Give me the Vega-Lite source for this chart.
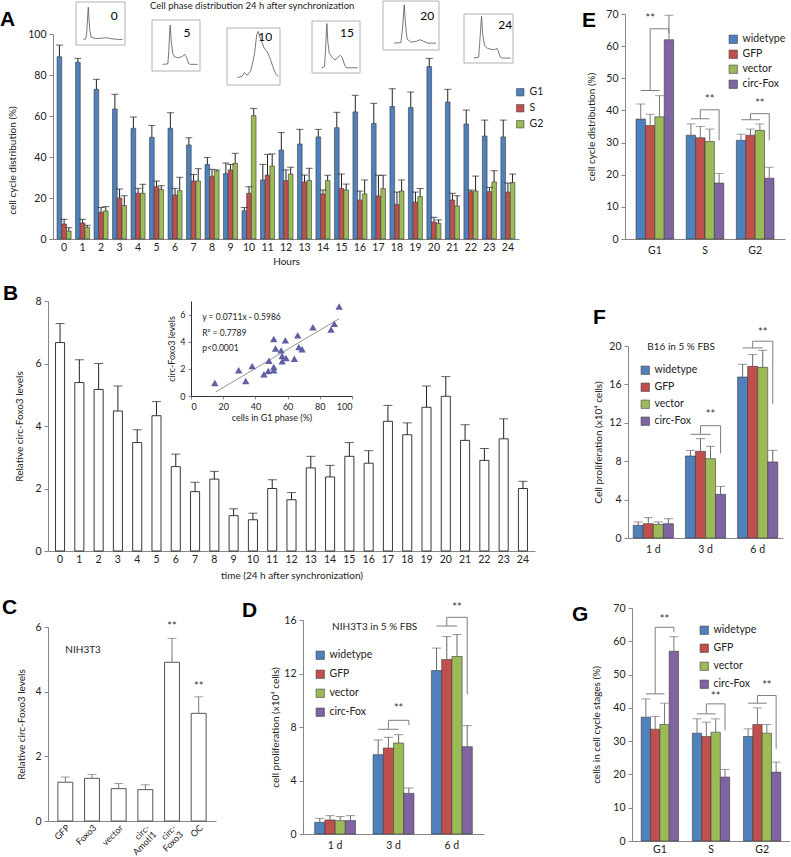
{
"$schema":"https://vega.github.io/schema/vega-lite/v6.json",
"background":"white",
"padding":0,
"spacing":16,
"resolve":{"scale":{"color":"independent","xOffset":"independent"}},
"title":{"text":"Cell phase distribution 24 h after synchronization","anchor":"start","frame":"group","dx":102,"offset":-10,"fontSize":9.5,"fontWeight":"normal","font":"Lato","color":"#222"},
"config":{
 "view":{"stroke":null},
 "font":"Lato",
 "axis":{"labelFont":"Lato","titleFont":"Lato","labelFontSize":10.5,"titleFontSize":10,"titleFontWeight":"normal","labelColor":"#222","titleColor":"#222","domainColor":"#868686","tickColor":"#868686","tickSize":4,"grid":false,"labelPadding":3,"labelOverlap":false},
 "legend":{"labelFont":"Lato","labelFontSize":10.5,"labelColor":"#222","symbolType":"square","symbolSize":70,"symbolStrokeColor":"#404040","symbolStrokeWidth":0.6},
 "title":{"font":"Liberation Sans","fontSize":21,"fontWeight":"bold","anchor":"start","frame":"group","color":"#000"},
 "bar":{"stroke":"#3a3a3a","strokeWidth":0.6},
 "text":{"font":"Lato"}
},
"datasets":{
 "A":[
  {"hour":0,"phase":"G1","value":88.9,"err":94.6},{"hour":0,"phase":"S","value":7.3,"err":9.6},{"hour":0,"phase":"G2","value":3.9,"err":5.5},
  {"hour":1,"phase":"G1","value":86.2,"err":88.1},{"hour":1,"phase":"S","value":7.8,"err":9.6},{"hour":1,"phase":"G2","value":5.7,"err":6.7},
  {"hour":2,"phase":"G1","value":73.0,"err":77.9},{"hour":2,"phase":"S","value":13.0,"err":15.4},{"hour":2,"phase":"G2","value":13.7,"err":15.8},
  {"hour":3,"phase":"G1","value":63.4,"err":70.6},{"hour":3,"phase":"S","value":20.0,"err":24.4},{"hour":3,"phase":"G2","value":16.3,"err":21.1},
  {"hour":4,"phase":"G1","value":54.0,"err":59.5},{"hour":4,"phase":"S","value":22.3,"err":24.7},{"hour":4,"phase":"G2","value":22.3,"err":26.7},
  {"hour":5,"phase":"G1","value":49.6,"err":55.4},{"hour":5,"phase":"S","value":25.5,"err":28.3},{"hour":5,"phase":"G2","value":24.2,"err":26.0},
  {"hour":6,"phase":"G1","value":54.0,"err":61.6},{"hour":6,"phase":"S","value":21.5,"err":24.7},{"hour":6,"phase":"G2","value":23.6,"err":30.1},
  {"hour":7,"phase":"G1","value":45.9,"err":49.4},{"hour":7,"phase":"S","value":28.3,"err":31.5},{"hour":7,"phase":"G2","value":28.3,"err":34.3},
  {"hour":8,"phase":"G1","value":36.3,"err":39.8},{"hour":8,"phase":"S","value":30.6,"err":34.0},{"hour":8,"phase":"G2","value":33.2,"err":33.7},
  {"hour":9,"phase":"G1","value":31.9,"err":37.1},{"hour":9,"phase":"S","value":33.7,"err":36.4},{"hour":9,"phase":"G2","value":36.9,"err":41.8},
  {"hour":10,"phase":"G1","value":13.8,"err":15.4},{"hour":10,"phase":"S","value":22.3,"err":25.5},{"hour":10,"phase":"G2","value":60.2,"err":63.7},
  {"hour":11,"phase":"G1","value":28.8,"err":36.4},{"hour":11,"phase":"S","value":31.2,"err":41.3},{"hour":11,"phase":"G2","value":35.6,"err":41.5},
  {"hour":12,"phase":"G1","value":43.4,"err":51.9},{"hour":12,"phase":"S","value":28.5,"err":33.7},{"hour":12,"phase":"G2","value":31.7,"err":35.0},
  {"hour":13,"phase":"G1","value":46.3,"err":53.5},{"hour":13,"phase":"S","value":27.8,"err":31.2},{"hour":13,"phase":"G2","value":28.5,"err":34.5},
  {"hour":14,"phase":"G1","value":49.8,"err":53.5},{"hour":14,"phase":"S","value":22.0,"err":23.9},{"hour":14,"phase":"G2","value":28.5,"err":31.1},
  {"hour":15,"phase":"G1","value":54.3,"err":61.8},{"hour":15,"phase":"S","value":24.6,"err":31.7},{"hour":15,"phase":"G2","value":23.9,"err":26.8},
  {"hour":16,"phase":"G1","value":62.0,"err":70.1},{"hour":16,"phase":"S","value":19.0,"err":23.4},{"hour":16,"phase":"G2","value":22.0,"err":28.8},
  {"hour":17,"phase":"G1","value":56.4,"err":66.2},{"hour":17,"phase":"S","value":21.0,"err":31.1},{"hour":17,"phase":"G2","value":24.6,"err":31.1},
  {"hour":18,"phase":"G1","value":64.6,"err":73.3},{"hour":18,"phase":"S","value":16.9,"err":22.9},{"hour":18,"phase":"G2","value":23.4,"err":28.8},
  {"hour":19,"phase":"G1","value":64.1,"err":71.7},{"hour":19,"phase":"S","value":18.0,"err":22.9},{"hour":19,"phase":"G2","value":20.7,"err":24.6},
  {"hour":20,"phase":"G1","value":84.1,"err":88.1},{"hour":20,"phase":"S","value":8.3,"err":10.6},{"hour":20,"phase":"G2","value":7.6,"err":9.3},
  {"hour":21,"phase":"G1","value":66.8,"err":73.0},{"hour":21,"phase":"S","value":19.0,"err":22.3},{"hour":21,"phase":"G2","value":16.1,"err":21.1},
  {"hour":22,"phase":"G1","value":56.1,"err":62.9},{"hour":22,"phase":"S","value":23.1,"err":23.9},{"hour":22,"phase":"G2","value":23.4,"err":30.7},
  {"hour":23,"phase":"G1","value":50.2,"err":58.0},{"hour":23,"phase":"S","value":23.1,"err":25.2},{"hour":23,"phase":"G2","value":27.8,"err":33.3},
  {"hour":24,"phase":"G1","value":49.8,"err":58.0},{"hour":24,"phase":"S","value":22.9,"err":27.3},{"hour":24,"phase":"G2","value":27.5,"err":31.7}
 ],
 "flow":[
  {"inset":"0","x":15,"y":13},{"inset":"0","x":20,"y":14},{"inset":"0","x":22,"y":30},{"inset":"0","x":24,"y":70},{"inset":"0","x":25,"y":88},{"inset":"0","x":26,"y":70},{"inset":"0","x":28,"y":35},{"inset":"0","x":31,"y":18},{"inset":"0","x":40,"y":15},{"inset":"0","x":55,"y":16},{"inset":"0","x":62,"y":17},{"inset":"0","x":70,"y":15},{"inset":"0","x":85,"y":13},{"inset":"0","x":95,"y":13},
  {"inset":"5","x":22,"y":13},{"inset":"5","x":33,"y":14},{"inset":"5","x":35,"y":40},{"inset":"5","x":37,"y":80},{"inset":"5","x":38,"y":90},{"inset":"5","x":40,"y":60},{"inset":"5","x":43,"y":35},{"inset":"5","x":47,"y":28},{"inset":"5","x":53,"y":26},{"inset":"5","x":59,"y":27},{"inset":"5","x":64,"y":29},{"inset":"5","x":68,"y":33},{"inset":"5","x":72,"y":27},{"inset":"5","x":76,"y":15},{"inset":"5","x":80,"y":13},{"inset":"5","x":95,"y":13},
  {"inset":"10","x":20,"y":13},{"inset":"10","x":28,"y":15},{"inset":"10","x":33,"y":22},{"inset":"10","x":38,"y":17},{"inset":"10","x":45,"y":25},{"inset":"10","x":52,"y":55},{"inset":"10","x":56,"y":88},{"inset":"10","x":59,"y":94},{"inset":"10","x":63,"y":82},{"inset":"10","x":70,"y":65},{"inset":"10","x":76,"y":58},{"inset":"10","x":82,"y":45},{"inset":"10","x":88,"y":28},{"inset":"10","x":93,"y":18},{"inset":"10","x":97,"y":15},
  {"inset":"15","x":20,"y":10},{"inset":"15","x":26,"y":12},{"inset":"15","x":28,"y":40},{"inset":"15","x":30,"y":80},{"inset":"15","x":31,"y":95},{"inset":"15","x":33,"y":60},{"inset":"15","x":36,"y":38},{"inset":"15","x":42,"y":30},{"inset":"15","x":48,"y":25},{"inset":"15","x":54,"y":30},{"inset":"15","x":59,"y":34},{"inset":"15","x":63,"y":30},{"inset":"15","x":68,"y":15},{"inset":"15","x":72,"y":10},{"inset":"15","x":95,"y":10},
  {"inset":"20","x":20,"y":14},{"inset":"20","x":32,"y":15},{"inset":"20","x":35,"y":45},{"inset":"20","x":37,"y":80},{"inset":"20","x":38,"y":92},{"inset":"20","x":40,"y":55},{"inset":"20","x":43,"y":22},{"inset":"20","x":50,"y":16},{"inset":"20","x":60,"y":18},{"inset":"20","x":66,"y":21},{"inset":"20","x":72,"y":18},{"inset":"20","x":80,"y":14},{"inset":"20","x":95,"y":14},
  {"inset":"24","x":20,"y":10},{"inset":"24","x":30,"y":12},{"inset":"24","x":32,"y":40},{"inset":"24","x":35,"y":85},{"inset":"24","x":36,"y":95},{"inset":"24","x":38,"y":60},{"inset":"24","x":42,"y":35},{"inset":"24","x":48,"y":30},{"inset":"24","x":55,"y":28},{"inset":"24","x":62,"y":27},{"inset":"24","x":67,"y":30},{"inset":"24","x":70,"y":24},{"inset":"24","x":74,"y":12},{"inset":"24","x":78,"y":10},{"inset":"24","x":95,"y":10}
 ],
 "B":[
  {"hour":0,"value":6.67,"err":7.28},{"hour":1,"value":5.39,"err":6.12},{"hour":2,"value":5.17,"err":6.0},{"hour":3,"value":4.48,"err":5.28},{"hour":4,"value":3.47,"err":3.88},
  {"hour":5,"value":4.33,"err":4.78},{"hour":6,"value":2.7,"err":3.1},{"hour":7,"value":1.9,"err":2.2},{"hour":8,"value":2.3,"err":2.55},{"hour":9,"value":1.13,"err":1.35},
  {"hour":10,"value":1.0,"err":1.21},{"hour":11,"value":2.0,"err":2.28},{"hour":12,"value":1.64,"err":1.87},{"hour":13,"value":2.66,"err":3.03},{"hour":14,"value":2.37,"err":2.74},
  {"hour":15,"value":3.03,"err":3.47},{"hour":16,"value":2.81,"err":3.21},{"hour":17,"value":4.15,"err":4.66},{"hour":18,"value":3.72,"err":4.1},{"hour":19,"value":4.6,"err":5.28},
  {"hour":20,"value":4.95,"err":5.58},{"hour":21,"value":3.54,"err":4.04},{"hour":22,"value":2.9,"err":3.28},{"hour":23,"value":3.59,"err":4.23},{"hour":24,"value":2.0,"err":2.23}
 ],
 "Bscatter":[
  {"g1":14.8,"level":0.96},{"g1":29.6,"level":1.9},{"g1":34,"level":1.1},{"g1":38,"level":2.2},{"g1":45.3,"level":1.6},{"g1":48,"level":1.84},
  {"g1":51.4,"level":2.14},{"g1":51.4,"level":1.9},{"g1":48.4,"level":2.6},{"g1":51.4,"level":4.2},{"g1":52.5,"level":3.5},{"g1":56,"level":3.36},
  {"g1":56.6,"level":2.95},{"g1":56.6,"level":2.55},{"g1":58.6,"level":4.1},{"g1":59,"level":2.8},{"g1":64.2,"level":2.75},{"g1":66.3,"level":4.47},
  {"g1":67,"level":3.6},{"g1":69,"level":3.44},{"g1":75.7,"level":5.06},{"g1":87,"level":4.9},{"g1":89,"level":5.33},{"g1":92,"level":6.6}
 ],
 "Bfit":[{"g1":15.4,"level":0.3},{"g1":92,"level":5.7}],
 "C":[
  {"label":"GFP","value":1.2,"err":1.36},{"label":"Foxo3","value":1.32,"err":1.44},{"label":"vector","value":1.0,"err":1.16},
  {"label":"circ-Amotl1","value":0.97,"err":1.12},{"label":"circ-Foxo3","value":4.91,"err":5.65},{"label":"OC","value":3.33,"err":3.84}
 ],
 "Cnote":[{"label":"circ-Foxo3","v":6.0,"text":"**"},{"label":"OC","v":4.15,"text":"**"}],
 "D":[
  {"grp":"1 d","ser":"widetype","value":0.87,"err":1.17},{"grp":"1 d","ser":"GFP","value":1.05,"err":1.37},{"grp":"1 d","ser":"vector","value":1.0,"err":1.3},{"grp":"1 d","ser":"circ-Fox","value":1.0,"err":1.37},
  {"grp":"3 d","ser":"widetype","value":5.93,"err":7.03},{"grp":"3 d","ser":"GFP","value":6.43,"err":7.23},{"grp":"3 d","ser":"vector","value":6.8,"err":7.43},{"grp":"3 d","ser":"circ-Fox","value":3.04,"err":3.44},
  {"grp":"6 d","ser":"widetype","value":12.22,"err":13.9},{"grp":"6 d","ser":"GFP","value":13.04,"err":14.76},{"grp":"6 d","ser":"vector","value":13.27,"err":14.91},{"grp":"6 d","ser":"circ-Fox","value":6.53,"err":8.1}
 ],
 "Dbr":[
  {"id":"a1","k":1,"grp":"3 d","ser":"widetype","v":7.83},{"id":"a1","k":2,"grp":"3 d","ser":"vector","v":7.83},
  {"id":"a2","k":1,"grp":"3 d","ser":"GFP","v":7.83},{"id":"a2","k":2,"grp":"3 d","ser":"GFP","v":8.5},{"id":"a2","k":3,"grp":"3 d","ser":"circ-Fox","v":8.5},{"id":"a2","k":4,"grp":"3 d","ser":"circ-Fox","v":8.15},
  {"id":"b1","k":1,"grp":"6 d","ser":"widetype","v":15.55},{"id":"b1","k":2,"grp":"6 d","ser":"vector","v":15.55},
  {"id":"b2","k":1,"grp":"6 d","ser":"GFP","v":15.55},{"id":"b2","k":2,"grp":"6 d","ser":"GFP","v":16.2},{"id":"b2","k":3,"grp":"6 d","ser":"circ-Fox","v":16.2},{"id":"b2","k":4,"grp":"6 d","ser":"circ-Fox","v":10.45}
 ],
 "Dnote":[{"grp":"3 d","ser":"vector","v":9.33,"text":"**"},{"grp":"6 d","ser":"vector","v":16.9,"text":"**"}],
 "E":[
  {"grp":"G1","ser":"widetype","value":37.3,"err":42.0},{"grp":"G1","ser":"GFP","value":35.3,"err":38.8},{"grp":"G1","ser":"vector","value":38.0,"err":44.6},{"grp":"G1","ser":"circ-Fox","value":62.0,"err":69.6},
  {"grp":"S","ser":"widetype","value":32.3,"err":35.8},{"grp":"S","ser":"GFP","value":31.5,"err":35.0},{"grp":"S","ser":"vector","value":30.3,"err":34.2},{"grp":"S","ser":"circ-Fox","value":17.4,"err":20.4},
  {"grp":"G2","ser":"widetype","value":30.7,"err":32.6},{"grp":"G2","ser":"GFP","value":32.3,"err":34.2},{"grp":"G2","ser":"vector","value":33.8,"err":35.8},{"grp":"G2","ser":"circ-Fox","value":18.9,"err":22.3}
 ],
 "Ebr":[
  {"id":"a1","k":1,"grp":"G1","ser":"widetype","v":46.2},{"id":"a1","k":2,"grp":"G1","ser":"vector","v":46.2},
  {"id":"a2","k":1,"grp":"G1","ser":"GFP","v":46.2},{"id":"a2","k":2,"grp":"G1","ser":"GFP","v":65.4},{"id":"a2","k":3,"grp":"G1","ser":"circ-Fox","v":65.4},{"id":"a2","k":4,"grp":"G1","ser":"circ-Fox","v":64.0},
  {"id":"b1","k":1,"grp":"S","ser":"widetype","v":37.4},{"id":"b1","k":2,"grp":"S","ser":"vector","v":37.4},
  {"id":"b2","k":1,"grp":"S","ser":"GFP","v":37.4},{"id":"b2","k":2,"grp":"S","ser":"GFP","v":40.2},{"id":"b2","k":3,"grp":"S","ser":"circ-Fox","v":40.2},{"id":"b2","k":4,"grp":"S","ser":"circ-Fox","v":30.7},
  {"id":"c1","k":1,"grp":"G2","ser":"widetype","v":37.1},{"id":"c1","k":2,"grp":"G2","ser":"vector","v":37.1},
  {"id":"c2","k":1,"grp":"G2","ser":"GFP","v":37.1},{"id":"c2","k":2,"grp":"G2","ser":"GFP","v":39.0},{"id":"c2","k":3,"grp":"G2","ser":"circ-Fox","v":39.0},{"id":"c2","k":4,"grp":"G2","ser":"circ-Fox","v":30.7}
 ],
 "Enote":[{"grp":"G1","ser":"GFP","v":68.5,"text":"**"},{"grp":"S","ser":"vector","v":43.3,"text":"**"},{"grp":"G2","ser":"vector","v":42.1,"text":"**"}],
 "F":[
  {"grp":"1 d","ser":"widetype","value":1.32,"err":1.67},{"grp":"1 d","ser":"GFP","value":1.49,"err":2.12},{"grp":"1 d","ser":"vector","value":1.42,"err":1.67},{"grp":"1 d","ser":"circ-Fox","value":1.49,"err":2.01},
  {"grp":"3 d","ser":"widetype","value":8.54,"err":9.13},{"grp":"3 d","ser":"GFP","value":9.03,"err":10.35},{"grp":"3 d","ser":"vector","value":8.26,"err":9.55},{"grp":"3 d","ser":"circ-Fox","value":4.55,"err":5.38},
  {"grp":"6 d","ser":"widetype","value":16.77,"err":18.1},{"grp":"6 d","ser":"GFP","value":17.88,"err":19.1},{"grp":"6 d","ser":"vector","value":17.78,"err":19.55},{"grp":"6 d","ser":"circ-Fox","value":7.92,"err":9.13}
 ],
 "Fbr":[
  {"id":"a1","k":1,"grp":"3 d","ser":"widetype","v":10.8},{"id":"a1","k":2,"grp":"3 d","ser":"vector","v":10.8},
  {"id":"a2","k":1,"grp":"3 d","ser":"GFP","v":10.8},{"id":"a2","k":2,"grp":"3 d","ser":"GFP","v":11.7},{"id":"a2","k":3,"grp":"3 d","ser":"circ-Fox","v":11.7},{"id":"a2","k":4,"grp":"3 d","ser":"circ-Fox","v":8.8},
  {"id":"b1","k":1,"grp":"6 d","ser":"widetype","v":19.8},{"id":"b1","k":2,"grp":"6 d","ser":"vector","v":19.8},
  {"id":"b2","k":1,"grp":"6 d","ser":"GFP","v":19.8},{"id":"b2","k":2,"grp":"6 d","ser":"GFP","v":20.5},{"id":"b2","k":3,"grp":"6 d","ser":"circ-Fox","v":20.5},{"id":"b2","k":4,"grp":"6 d","ser":"circ-Fox","v":14.0}
 ],
 "Fnote":[{"grp":"3 d","ser":"vector","v":12.8,"text":"**"},{"grp":"6 d","ser":"vector","v":21.35,"text":"**"}],
 "G":[
  {"grp":"G1","ser":"widetype","value":37.2,"err":42.7},{"grp":"G1","ser":"GFP","value":33.6,"err":37.4},{"grp":"G1","ser":"vector","value":35.0,"err":41.4},{"grp":"G1","ser":"circ-Fox","value":57.0,"err":61.4},
  {"grp":"S","ser":"widetype","value":32.4,"err":36.7},{"grp":"S","ser":"GFP","value":31.4,"err":35.7},{"grp":"S","ser":"vector","value":32.7,"err":36.7},{"grp":"S","ser":"circ-Fox","value":19.2,"err":21.5},
  {"grp":"G2","ser":"widetype","value":31.4,"err":33.7},{"grp":"G2","ser":"GFP","value":35.0,"err":40.0},{"grp":"G2","ser":"vector","value":32.4,"err":35.0},{"grp":"G2","ser":"circ-Fox","value":20.7,"err":23.7}
 ],
 "Gbr":[
  {"id":"a1","k":1,"grp":"G1","ser":"widetype","v":44.2},{"id":"a1","k":2,"grp":"G1","ser":"vector","v":44.2},
  {"id":"a2","k":1,"grp":"G1","ser":"GFP","v":44.2},{"id":"a2","k":2,"grp":"G1","ser":"GFP","v":64.2},{"id":"a2","k":3,"grp":"G1","ser":"circ-Fox","v":64.2},{"id":"a2","k":4,"grp":"G1","ser":"circ-Fox","v":62.7},
  {"id":"b1","k":1,"grp":"S","ser":"widetype","v":38.2},{"id":"b1","k":2,"grp":"S","ser":"vector","v":38.2},
  {"id":"b2","k":1,"grp":"S","ser":"GFP","v":38.2},{"id":"b2","k":2,"grp":"S","ser":"GFP","v":41.2},{"id":"b2","k":3,"grp":"S","ser":"circ-Fox","v":41.2},{"id":"b2","k":4,"grp":"S","ser":"circ-Fox","v":33.2},
  {"id":"c1","k":1,"grp":"G2","ser":"widetype","v":41.4},{"id":"c1","k":2,"grp":"G2","ser":"vector","v":41.4},
  {"id":"c2","k":1,"grp":"G2","ser":"GFP","v":41.4},{"id":"c2","k":2,"grp":"G2","ser":"GFP","v":43.7},{"id":"c2","k":3,"grp":"G2","ser":"circ-Fox","v":43.7},{"id":"c2","k":4,"grp":"G2","ser":"circ-Fox","v":27.7}
 ],
 "Gnote":[{"grp":"G1","ser":"vector","v":66.5,"text":"**"},{"grp":"S","ser":"vector","v":43.2,"text":"**"},{"grp":"G2","ser":"vector","v":46.7,"text":"**"}]
},
"vconcat":[
 {"hconcat":[
  {"width":471,"height":225,
   "title":{"text":"A","dx":-48,"offset":-29},
   "layer":[
    {"data":{"name":"A"},
     "encoding":{
      "x":{"field":"hour","type":"ordinal","scale":{"range":[5,471],"paddingInner":0.24,"paddingOuter":0.22},"axis":{"title":"Hours","labelAngle":0,"ticks":false,"titlePadding":4}},
      "xOffset":{"field":"phase","type":"nominal","sort":["G1","S","G2"]}
     },
     "layer":[
      {"mark":{"type":"bar"},"encoding":{"y":{"field":"value","type":"quantitative","scale":{"domain":[0,100],"range":[225,20]},"axis":{"values":[0,10,20,30,40,50,60,70,80,90,100],"labelExpr":"datum.value % 20 == 0 ? datum.label : ''","title":"cell cycle distribution (%)","offset":-5,"titleX":-36,"titleY":146}},
        "color":{"field":"phase","type":"nominal","scale":{"domain":["G1","S","G2"],"range":["#4F81BD","#C0504D","#9BBB59"]},"legend":{"title":null,"orient":"none","legendX":467,"legendY":73,"rowPadding":5,"symbolSize":55}}}},
      {"mark":{"type":"rule","color":"#222","strokeWidth":1},"encoding":{"y":{"field":"value","type":"quantitative"},"y2":{"field":"err"}}},
      {"mark":{"type":"tick","color":"#222","size":7,"thickness":1},"encoding":{"y":{"field":"err","type":"quantitative"}}}
     ]},
    {"layer":[
      {"data":{"values":[{}]},"mark":{"type":"rect","fill":"white","stroke":"#a0a0a0","strokeWidth":0.8},"encoding":{"x":{"datum":0,"type":"quantitative","scale":{"domain":[0,100],"range":[28,77]},"axis":null},"x2":{"datum":100},"y":{"datum":0,"type":"quantitative","scale":{"domain":[0,100],"range":[31,-12]},"axis":null},"y2":{"datum":100}}},
      {"data":{"name":"flow"},"transform":[{"filter":"datum.inset == '0'"}],"mark":{"type":"line","color":"#555","strokeWidth":0.8},"encoding":{"x":{"field":"x","type":"quantitative"},"y":{"field":"y","type":"quantitative"}}},
      {"data":{"values":[{}]},"mark":{"type":"text","fontSize":12},"encoding":{"x":{"datum":78,"type":"quantitative"},"y":{"datum":67,"type":"quantitative"},"text":{"value":"0"}}}
    ]},
    {"layer":[
      {"data":{"values":[{}]},"mark":{"type":"rect","fill":"white","stroke":"#a0a0a0","strokeWidth":0.8},"encoding":{"x":{"datum":0,"type":"quantitative","scale":{"domain":[0,100],"range":[104,152]},"axis":null},"x2":{"datum":100},"y":{"datum":0,"type":"quantitative","scale":{"domain":[0,100],"range":[57,6]},"axis":null},"y2":{"datum":100}}},
      {"data":{"name":"flow"},"transform":[{"filter":"datum.inset == '5'"}],"mark":{"type":"line","color":"#555","strokeWidth":0.8},"encoding":{"x":{"field":"x","type":"quantitative"},"y":{"field":"y","type":"quantitative"}}},
      {"data":{"values":[{}]},"mark":{"type":"text","fontSize":12},"encoding":{"x":{"datum":73,"type":"quantitative"},"y":{"datum":75,"type":"quantitative"},"text":{"value":"5"}}}
    ]},
    {"layer":[
      {"data":{"values":[{}]},"mark":{"type":"rect","fill":"white","stroke":"#a0a0a0","strokeWidth":0.8},"encoding":{"x":{"datum":0,"type":"quantitative","scale":{"domain":[0,100],"range":[179,232]},"axis":null},"x2":{"datum":100},"y":{"datum":0,"type":"quantitative","scale":{"domain":[0,100],"range":[71,14]},"axis":null},"y2":{"datum":100}}},
      {"data":{"name":"flow"},"transform":[{"filter":"datum.inset == '10'"}],"mark":{"type":"line","color":"#555","strokeWidth":0.8},"encoding":{"x":{"field":"x","type":"quantitative"},"y":{"field":"y","type":"quantitative"}}},
      {"data":{"values":[{}]},"mark":{"type":"text","fontSize":12},"encoding":{"x":{"datum":72,"type":"quantitative"},"y":{"datum":85,"type":"quantitative"},"text":{"value":"10"}}}
    ]},
    {"layer":[
      {"data":{"values":[{}]},"mark":{"type":"rect","fill":"white","stroke":"#a0a0a0","strokeWidth":0.8},"encoding":{"x":{"datum":0,"type":"quantitative","scale":{"domain":[0,100],"range":[264,312]},"axis":null},"x2":{"datum":100},"y":{"datum":0,"type":"quantitative","scale":{"domain":[0,100],"range":[59,7]},"axis":null},"y2":{"datum":100}}},
      {"data":{"name":"flow"},"transform":[{"filter":"datum.inset == '15'"}],"mark":{"type":"line","color":"#555","strokeWidth":0.8},"encoding":{"x":{"field":"x","type":"quantitative"},"y":{"field":"y","type":"quantitative"}}},
      {"data":{"values":[{}]},"mark":{"type":"text","fontSize":12},"encoding":{"x":{"datum":73,"type":"quantitative"},"y":{"datum":77,"type":"quantitative"},"text":{"value":"15"}}}
    ]},
    {"layer":[
      {"data":{"values":[{}]},"mark":{"type":"rect","fill":"white","stroke":"#a0a0a0","strokeWidth":0.8},"encoding":{"x":{"datum":0,"type":"quantitative","scale":{"domain":[0,100],"range":[335,391]},"axis":null},"x2":{"datum":100},"y":{"datum":0,"type":"quantitative","scale":{"domain":[0,100],"range":[36,-13]},"axis":null},"y2":{"datum":100}}},
      {"data":{"name":"flow"},"transform":[{"filter":"datum.inset == '20'"}],"mark":{"type":"line","color":"#555","strokeWidth":0.8},"encoding":{"x":{"field":"x","type":"quantitative"},"y":{"field":"y","type":"quantitative"}}},
      {"data":{"values":[{}]},"mark":{"type":"text","fontSize":12},"encoding":{"x":{"datum":79,"type":"quantitative"},"y":{"datum":69,"type":"quantitative"},"text":{"value":"20"}}}
    ]},
    {"layer":[
      {"data":{"values":[{}]},"mark":{"type":"rect","fill":"white","stroke":"#a0a0a0","strokeWidth":0.8},"encoding":{"x":{"datum":0,"type":"quantitative","scale":{"domain":[0,100],"range":[416,465]},"axis":null},"x2":{"datum":100},"y":{"datum":0,"type":"quantitative","scale":{"domain":[0,100],"range":[49,0]},"axis":null},"y2":{"datum":100}}},
      {"data":{"name":"flow"},"transform":[{"filter":"datum.inset == '24'"}],"mark":{"type":"line","color":"#555","strokeWidth":0.8},"encoding":{"x":{"field":"x","type":"quantitative"},"y":{"field":"y","type":"quantitative"}}},
      {"data":{"values":[{}]},"mark":{"type":"text","fontSize":12},"encoding":{"x":{"datum":84,"type":"quantitative"},"y":{"datum":78,"type":"quantitative"},"text":{"value":"24"}}}
    ]}
   ],
   "resolve":{"scale":{"x":"independent","y":"independent"}}
  },
  {"width":160,"height":225,
   "title":{"text":"E","dx":-43,"offset":-22},
   "encoding":{
    "x":{"field":"grp","type":"nominal","sort":["G1","S","G2"],"scale":{"paddingInner":0.25,"paddingOuter":0.22},"axis":{"title":null,"labelAngle":0,"ticks":false,"labelPadding":6}},
    "xOffset":{"field":"ser","type":"nominal","sort":["widetype","GFP","vector","circ-Fox"]},
    "y":{"field":"value","type":"quantitative","scale":{"domain":[0,70]},"axis":{"values":[0,10,20,30,40,50,60,70],"tickCount":8,"labelOverlap":false,"title":"cell cycle distribution (%)","titlePadding":9}}
   },
   "layer":[
    {"data":{"name":"E"},"mark":{"type":"bar"},"encoding":{
      "color":{"field":"ser","type":"nominal","scale":{"domain":["widetype","GFP","vector","circ-Fox"],"range":["#4F81BD","#C0504D","#9BBB59","#8064A2"]},"legend":{"title":null,"orient":"none","legendX":103,"legendY":20,"rowPadding":3}}}},
    {"data":{"name":"E"},"mark":{"type":"rule","color":"#777"},"encoding":{"y2":{"field":"err"}}},
    {"data":{"name":"E"},"mark":{"type":"tick","color":"#777","size":9,"thickness":1},"encoding":{"y":{"field":"err","type":"quantitative"}}},
    {"data":{"name":"Ebr"},"mark":{"type":"line","color":"#7f7f7f","strokeWidth":1},"encoding":{"y":{"field":"v","type":"quantitative"},"detail":{"field":"id"},"order":{"field":"k"}}},
    {"data":{"name":"Enote"},"mark":{"type":"text","fontSize":11,"color":"#333","baseline":"middle"},"encoding":{"y":{"field":"v","type":"quantitative"},"text":{"field":"text"}}},
    {"data":{"values":[{}]},"mark":{"type":"text","fontSize":10,"align":"left","dx":-22,"color":"#222"},"encoding":{"x":{"datum":"S"},"xOffset":null,"y":{"datum":70.4,"type":"quantitative"},"text":{"value":"NIH3T3 in 5% FBS, 2 d"}}}
   ]
  }
 ],"spacing":106,"bounds":"flush","resolve":{"scale":{"color":"independent","xOffset":"independent"}}},
 {"hconcat":[
  {"width":487,"height":250,
   "title":{"text":"B","dx":-45,"offset":-8},
   "layer":[
    {"data":{"name":"B"},
     "encoding":{"x":{"field":"hour","type":"ordinal","scale":{"paddingInner":0.53,"paddingOuter":0.39},"axis":{"title":"time (24 h after synchronization)","labelAngle":0,"ticks":false,"titlePadding":6}}},
     "layer":[
      {"mark":{"type":"bar","fill":"white","stroke":"#222","strokeWidth":0.9},"encoding":{"y":{"field":"value","type":"quantitative","scale":{"domain":[0,8]},"axis":{"values":[0,1,2,3,4,5,6,7,8],"title":"Relative circ-Foxo3 levels","titlePadding":10}}}},
      {"mark":{"type":"rule","color":"#222"},"encoding":{"y":{"field":"value","type":"quantitative"},"y2":{"field":"err"}}},
      {"mark":{"type":"tick","color":"#222","size":9,"thickness":1},"encoding":{"y":{"field":"err","type":"quantitative"}}}
     ]},
    {"layer":[
      {"data":{"name":"Bfit"},"mark":{"type":"line","color":"#777","strokeWidth":0.8},"encoding":{"x":{"field":"g1","type":"quantitative","scale":{"domain":[0,100],"range":[143,304]},"axis":{"orient":"bottom","offset":-155,"values":[0,20,40,60,80,100],"title":"cells in G1 phase (%)","labelFontSize":9,"titleFontSize":9,"tickSize":3,"titlePadding":2,"domainColor":"#333"}},"y":{"field":"level","type":"quantitative","scale":{"domain":[0,7],"range":[95,0]},"axis":{"orient":"left","offset":-143,"values":[0,1,2,3,4,5,6,7],"title":"circ-Foxo3 levels","labelFontSize":9,"titleFontSize":9,"tickSize":3,"titlePadding":3,"domainColor":"#333"}}}},
      {"data":{"name":"Bscatter"},"mark":{"type":"point","shape":"triangle-up","filled":true,"color":"#5F5FA3","size":55,"opacity":1},"encoding":{"x":{"field":"g1","type":"quantitative"},"y":{"field":"level","type":"quantitative"}}},
      {"data":{"values":[{}]},"mark":{"type":"text","fontSize":8.5,"align":"left","baseline":"top","lineHeight":15.5,"color":"#222"},"encoding":{"x":{"datum":7,"type":"quantitative"},"y":{"datum":6.1,"type":"quantitative"},"text":{"value":["y = 0.0711x - 0.5986","R² = 0.7789","p<0.0001"]}}}
    ]}
   ],
   "resolve":{"scale":{"x":"independent","y":"independent"}}
  },
  {"width":155,"height":237,
   "title":{"text":"F","dx":-35,"offset":-27},
   "encoding":{
    "x":{"field":"grp","type":"nominal","sort":["1 d","3 d","6 d"],"scale":{"paddingInner":0.23,"paddingOuter":0.1},"axis":{"title":null,"labelAngle":0,"ticks":false,"labelPadding":6}},
    "xOffset":{"field":"ser","type":"nominal","sort":["widetype","GFP","vector","circ-Fox"]}
   },
   "layer":[
    {"data":{"name":"F"},"mark":{"type":"bar"},"encoding":{"y":{"field":"value","type":"quantitative","scale":{"domain":[0,20],"range":[237,45]},"axis":{"values":[0,4,8,12,16,20],"title":"Cell proliferation (x10⁴ cells)","titlePadding":5}},
      "color":{"field":"ser","type":"nominal","scale":{"domain":["widetype","GFP","vector","circ-Fox"],"range":["#4F81BD","#C0504D","#9BBB59","#8064A2"]},"legend":{"title":null,"orient":"none","legendX":12,"legendY":64,"rowPadding":5}}}},
    {"data":{"name":"F"},"mark":{"type":"rule","color":"#666"},"encoding":{"y":{"field":"value","type":"quantitative"},"y2":{"field":"err"}}},
    {"data":{"name":"F"},"mark":{"type":"tick","color":"#666","size":9,"thickness":1},"encoding":{"y":{"field":"err","type":"quantitative"}}},
    {"data":{"name":"Fbr"},"mark":{"type":"line","color":"#7f7f7f","strokeWidth":1},"encoding":{"y":{"field":"v","type":"quantitative"},"detail":{"field":"id"},"order":{"field":"k"}}},
    {"data":{"name":"Fnote"},"mark":{"type":"text","fontSize":11,"color":"#333","baseline":"middle"},"encoding":{"y":{"field":"v","type":"quantitative"},"text":{"field":"text"}}},
    {"data":{"values":[{}]},"mark":{"type":"text","fontSize":10,"align":"left","dx":-6,"color":"#222"},"encoding":{"x":{"datum":"1 d"},"xOffset":null,"y":{"datum":19.9,"type":"quantitative"},"text":{"value":"B16 in 5 % FBS"}}}
   ]
  }
 ],"spacing":93,"bounds":"flush","resolve":{"scale":{"color":"independent","xOffset":"independent"}}},
 {"hconcat":[
   {"width":168,"height":213,
    "title":{"text":"C","dx":-46,"offset":-10},
    "encoding":{"x":{"field":"label","type":"nominal","sort":["GFP","Foxo3","vector","circ-Amotl1","circ-Foxo3","OC"],"scale":{"paddingInner":0.44,"paddingOuter":0.37},"axis":{"title":null,"labelAngle":-45,"ticks":false,"labelFontSize":9,"labelPadding":2,"labelLineHeight":9.5,"labelExpr":"datum.label == 'circ-Amotl1' ? ['circ-','Amotl1'] : datum.label == 'circ-Foxo3' ? ['circ-','Foxo3'] : datum.label"}}},
    "layer":[
     {"data":{"name":"C"},"mark":{"type":"bar","fill":"white","stroke":"#555","strokeWidth":1},"encoding":{"y":{"field":"value","type":"quantitative","scale":{"domain":[0,6],"range":[213,19]},"axis":{"values":[0,1,2,3,4,5,6],"title":"Relative circ-Foxo3 levels","titlePadding":8}}}},
     {"data":{"name":"C"},"mark":{"type":"rule","color":"#777"},"encoding":{"y":{"field":"value","type":"quantitative"},"y2":{"field":"err"}}},
     {"data":{"name":"C"},"mark":{"type":"tick","color":"#777","size":9,"thickness":1},"encoding":{"y":{"field":"err","type":"quantitative"}}},
     {"data":{"name":"Cnote"},"mark":{"type":"text","fontSize":11,"color":"#333","baseline":"middle"},"encoding":{"y":{"field":"v","type":"quantitative"},"text":{"field":"text"}}},
     {"data":{"values":[{}]},"mark":{"type":"text","fontSize":10,"align":"left","color":"#222"},"encoding":{"x":{"datum":"GFP"},"y":{"datum":5.3,"type":"quantitative"},"text":{"value":"NIH3T3"}}}
    ]
   },
   {"width":242,"height":226,
    "title":{"text":"D","dx":-61,"offset":-19},
    "encoding":{
     "x":{"field":"grp","type":"nominal","sort":["1 d","3 d","6 d"],"scale":{"range":[0,181],"paddingInner":0.3,"paddingOuter":0.2},"axis":{"title":null,"labelAngle":0,"ticks":false,"labelPadding":6}},
     "xOffset":{"field":"ser","type":"nominal","sort":["widetype","GFP","vector","circ-Fox"]}
    },
    "layer":[
     {"data":{"name":"D"},"mark":{"type":"bar"},"encoding":{"y":{"field":"value","type":"quantitative","scale":{"domain":[0,16],"range":[226,12]},"axis":{"values":[0,4,8,12,16],"title":"cell proliferation (x10⁴ cells)","titlePadding":3}},
       "color":{"field":"ser","type":"nominal","scale":{"domain":["widetype","GFP","vector","circ-Fox"],"range":["#4F81BD","#C0504D","#9BBB59","#8064A2"]},"legend":{"title":null,"orient":"none","legendX":12,"legendY":42,"rowPadding":7}}}},
     {"data":{"name":"D"},"mark":{"type":"rule","color":"#666"},"encoding":{"y":{"field":"value","type":"quantitative"},"y2":{"field":"err"}}},
     {"data":{"name":"D"},"mark":{"type":"tick","color":"#666","size":9,"thickness":1},"encoding":{"y":{"field":"err","type":"quantitative"}}},
     {"data":{"name":"Dbr"},"mark":{"type":"line","color":"#7f7f7f","strokeWidth":1},"encoding":{"y":{"field":"v","type":"quantitative"},"detail":{"field":"id"},"order":{"field":"k"}}},
     {"data":{"name":"Dnote"},"mark":{"type":"text","fontSize":11,"color":"#333","baseline":"middle"},"encoding":{"y":{"field":"v","type":"quantitative"},"text":{"field":"text"}}},
     {"data":{"values":[{}]},"mark":{"type":"text","fontSize":10,"align":"left","dx":-3,"color":"#222"},"encoding":{"x":{"datum":"1 d"},"xOffset":null,"y":{"datum":15.5,"type":"quantitative"},"text":{"value":"NIH3T3 in 5 % FBS"}}}
    ]
   },
  {"width":158,"height":233,
   "title":{"text":"G","dx":-60,"offset":-22},
   "encoding":{
    "x":{"field":"grp","type":"nominal","sort":["G1","S","G2"],"scale":{"paddingInner":0.27,"paddingOuter":0.18},"axis":{"title":null,"labelAngle":0,"ticks":false,"labelPadding":3}},
    "xOffset":{"field":"ser","type":"nominal","sort":["widetype","GFP","vector","circ-Fox"]},
    "y":{"field":"value","type":"quantitative","scale":{"domain":[0,70]},"axis":{"values":[0,10,20,30,40,50,60,70],"tickCount":8,"labelOverlap":false,"title":"cells in cell cycle stages (%)","titlePadding":11}}
   },
   "layer":[
    {"data":{"name":"G"},"mark":{"type":"bar"},"encoding":{
      "color":{"field":"ser","type":"nominal","scale":{"domain":["widetype","GFP","vector","circ-Fox"],"range":["#4F81BD","#C0504D","#9BBB59","#8064A2"]},"legend":{"title":null,"orient":"none","legendX":67,"legendY":17,"rowPadding":6}}}},
    {"data":{"name":"G"},"mark":{"type":"rule","color":"#777"},"encoding":{"y2":{"field":"err"}}},
    {"data":{"name":"G"},"mark":{"type":"tick","color":"#777","size":9,"thickness":1},"encoding":{"y":{"field":"err","type":"quantitative"}}},
    {"data":{"name":"Gbr"},"mark":{"type":"line","color":"#7f7f7f","strokeWidth":1},"encoding":{"y":{"field":"v","type":"quantitative"},"detail":{"field":"id"},"order":{"field":"k"}}},
    {"data":{"name":"Gnote"},"mark":{"type":"text","fontSize":11,"color":"#333","baseline":"middle"},"encoding":{"y":{"field":"v","type":"quantitative"},"text":{"field":"text"}}},
    {"data":{"values":[{}]},"mark":{"type":"text","fontSize":10,"align":"left","dx":-18,"color":"#222"},"encoding":{"x":{"datum":"S"},"xOffset":null,"y":{"datum":68.8,"type":"quantitative"},"text":{"value":"B16 in 5% FBS for 2 d"}}}
   ]
  }
 ],"spacing":87,"bounds":"flush","resolve":{"scale":{"color":"independent","xOffset":"independent"}}}
]
}
